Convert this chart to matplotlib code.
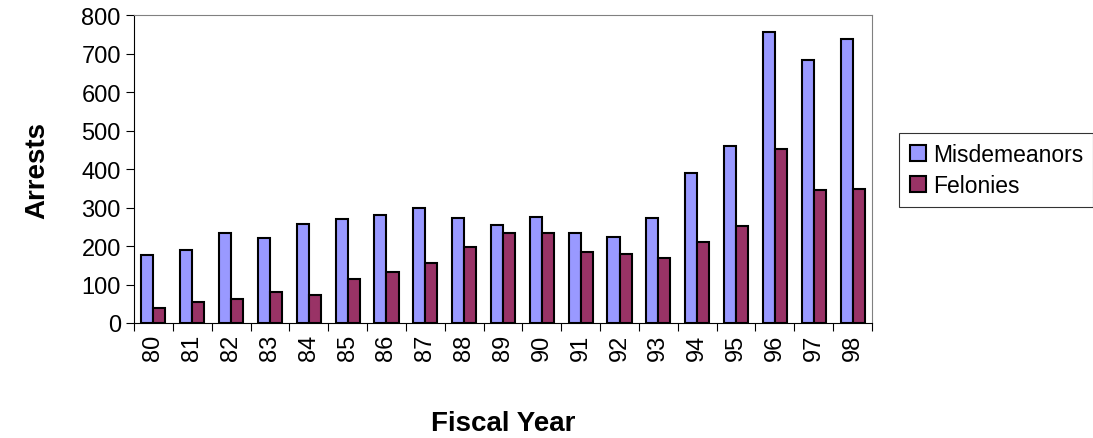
import matplotlib
matplotlib.use("Agg")
import matplotlib.pyplot as plt
import numpy as np

years = ["80","81","82","83","84","85","86","87","88","89","90","91","92","93","94","95","96","97","98"]
misdemeanors = [177,190,235,222,256,271,280,300,274,254,276,233,224,273,389,461,756,683,737]
felonies = [40,54,62,81,74,113,132,156,197,235,233,185,180,169,211,253,453,345,348]

plt.rcParams['font.family'] = ['Liberation Sans', 'DejaVu Sans']
fig = plt.figure(figsize=(10.93, 4.39), dpi=100)
ax = fig.add_axes([134/1093, 1-324/439, (872-134)/1093, (324-16)/439])
x = np.arange(len(years))
w = 0.31
ax.bar(x - w/2, misdemeanors, w, color='#9999FF', edgecolor='black', linewidth=1.5, label='Misdemeanors')
ax.bar(x + w/2, felonies, w, color='#993366', edgecolor='black', linewidth=1.5, label='Felonies')
ax.set_xlim(-0.5, len(years) - 0.5)
ax.set_ylim(0, 800)
ax.set_yticks(range(0, 801, 100))
ax.set_xticks(np.arange(-0.5, len(years), 1), minor=False)
ax.set_xticklabels([])
ax.set_xticks(x, minor=True)
ax.set_xticklabels(years, minor=True, rotation=90, fontsize=17)
ax.tick_params(axis='x', which='minor', length=0, pad=8)
ax.tick_params(axis='x', which='major', length=6, direction='out')
ax.tick_params(axis='y', labelsize=17, length=6, direction='out')
for s in ['top', 'right']:
    ax.spines[s].set_color('#808080')
ax.set_ylabel('Arrests', fontsize=20, fontweight='bold', labelpad=22)
ax.set_xlabel('Fiscal Year', fontsize=20, fontweight='bold', labelpad=36)
leg = ax.legend(loc='center left', bbox_to_anchor=(888/1093, 1 - 171/439), bbox_transform=fig.transFigure,
                fontsize=16.5, frameon=True, fancybox=False, edgecolor='black', handlelength=0.7, handletextpad=0.3,
                borderpad=0.45, labelspacing=0.35)
leg.get_frame().set_linewidth(0.8)
fig.savefig('out.png', dpi=100)
